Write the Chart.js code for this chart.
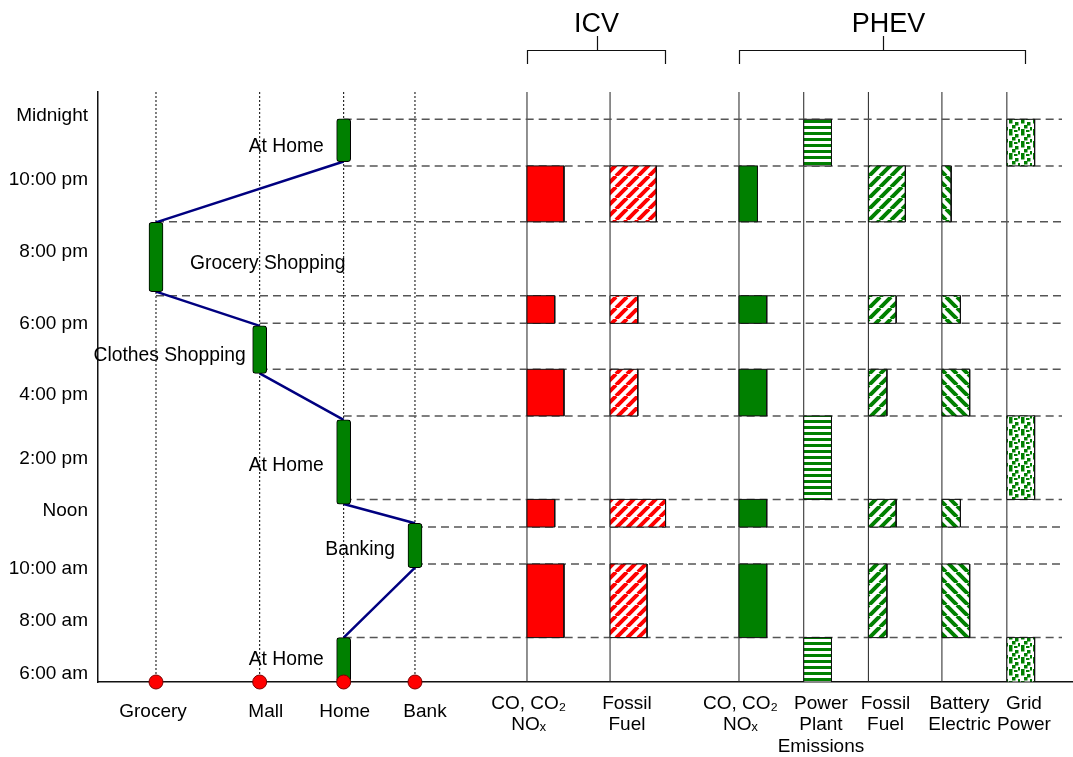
<!DOCTYPE html>
<html><head><meta charset="utf-8">
<script src="https://cdn.jsdelivr.net/npm/chart.js@4.4.1/dist/chart.umd.min.js"></script>
<style>html,body{margin:0;padding:0;background:#fff;}#wrap{width:1073px;height:757px;}</style>
</head><body><div id="wrap"><canvas id="c" width="1073" height="757"></canvas></div>
<script>
const FONT = '"Liberation Sans", Arial, Helvetica, sans-serif';

// ---- time axis (hours on the drawing's own time scale) ----
const timeLabels = ['6:00 am','8:00 am','10:00 am','Noon','2:00 pm','4:00 pm','6:00 pm','8:00 pm','10:00 pm','Midnight'];
const timeTicks  = [5.98, 7.67, 9.35, 11.23, 12.89, 14.94, 17.25, 19.56, 21.86, 23.95];
const timeMin = 5.70, timeMax = 24.70;

// ---- places (left part) ----
const places      = ['Grocery','Mall','Home','Bank'];
const placeX      = [6.27, 17.48, 26.56, 34.27];
const placeLabelX = [5.95, 18.14, 26.67, 35.35];

// ---- daily activities ----
const activityPlace = ['Home','Bank','Home','Mall','Grocery','Home'];
const activityLabel = ['At Home','Banking','At Home','Clothes Shopping','Grocery Shopping','At Home'];
const activityStart = [5.70, 9.38, 11.43, 15.64, 18.27, 22.46];
const activityEnd   = [7.13, 10.81, 14.14, 17.17, 20.50, 23.84];

// ---- driving periods and parked-at-home periods ----
const driveStart = [7.13, 10.69, 14.27, 17.25, 20.52];
const driveEnd   = [9.50, 11.58, 15.77, 18.14, 22.32];
const homeStart  = [5.70, 11.58, 22.32];
const homeEnd    = [7.13, 14.27, 23.82];

// ---- columns (right part) ----
const columnNames  = [['CO, CO\u2082','NO\u2093'],['Fossil','Fuel'],['CO, CO\u2082','NO\u2093'],['Power','Plant','Emissions'],['Fossil','Fuel'],['Battery','Electric'],['Grid','Power']];
const columnX      = [46.38, 55.36, 69.30, 76.30, 83.29, 91.24, 98.26];
const columnLabelX = [46.56, 57.19, 69.46, 78.16, 85.14, 93.14, 100.11];

// ---- amounts per driving period / per home period ----
const icvEmissions   = [4, 3, 4, 3, 4];
const icvFuel        = [4, 6, 3, 3, 5];
const phevEmissions  = [3, 3, 3, 3, 2];
const phevFuel       = [2, 3, 2, 3, 4];
const phevBattery    = [3, 2, 3, 2, 1];
const plantEmissions = [3, 3, 3];
const gridPower      = [3, 3, 3];

// ---- vehicle groups ----
const groupNames = ['ICV','PHEV'];
const groupFrom  = [46.38, 69.30];
const groupTo    = [61.33, 100.26];
const lineEndX   = 104.22;
const xMax       = 105.41;

// ---------- patterns ----------
const GREEN = '#008000', RED = '#ff0000';
function pattern(kind, color) {
  const c = document.createElement('canvas');
  const g = c.getContext('2d');
  if (kind === 'slash' || kind === 'backslash') {
    const s = 11; c.width = s; c.height = s;
    g.fillStyle = '#fff'; g.fillRect(0, 0, s, s);
    g.strokeStyle = color; g.lineWidth = 4;
    g.beginPath();
    for (const k of [-1, 0, 1, 2]) {
      if (kind === 'slash') { g.moveTo(k * s, 0); g.lineTo(k * s - s, s); }
      else { g.moveTo(k * s - s, 0); g.lineTo(k * s, s); }
    }
    g.stroke();
  } else if (kind === 'hstripe') {
    c.width = 4; c.height = 6;
    g.fillStyle = '#fff'; g.fillRect(0, 0, 4, 6);
    g.fillStyle = color; g.fillRect(0, 0, 4, 3);
  } else if (kind === 'dots') {
    c.width = 12; c.height = 12;
    g.fillStyle = '#fff'; g.fillRect(0, 0, 12, 12);
    g.fillStyle = color;
    [[1,0],[7,2],[4,5],[10,7],[1,9],[6,10]].forEach(([a, b]) => g.fillRect(a, b, 3.5, 3.5));
  }
  return g.createPattern(c, 'repeat');
}

const driveCols = [
  {x: columnX[0], amt: icvEmissions,  fill: RED},
  {x: columnX[1], amt: icvFuel,       fill: pattern('slash', RED)},
  {x: columnX[2], amt: phevEmissions, fill: GREEN},
  {x: columnX[4], amt: phevFuel,      fill: pattern('slash', GREEN)},
  {x: columnX[5], amt: phevBattery,   fill: pattern('backslash', GREEN)}
];
const homeCols = [
  {x: columnX[3], amt: plantEmissions, fill: pattern('hstripe', GREEN)},
  {x: columnX[6], amt: gridPower,      fill: pattern('dots', GREEN)}
];

const GAP = {x: null, y: null};
const px = name => placeX[places.indexOf(name)];
const datasets = [];

// vertical lines: dotted for places, solid for columns
const placeLines = [], colLines = [];
placeX.forEach(x => placeLines.push({x, y: timeMin}, {x, y: timeMax}, GAP));
columnX.forEach(x => colLines.push({x, y: timeMin}, {x, y: timeMax}, GAP));
datasets.push({type: 'line', data: placeLines, borderColor: '#000', borderWidth: 1, borderDash: [2, 2], pointRadius: 0, spanGaps: false, order: 9});
datasets.push({type: 'line', data: colLines, borderColor: '#222', borderWidth: 1, pointRadius: 0, spanGaps: false, order: 9});

// dashed time boundaries
const dashes = [];
driveStart.forEach((t, i) => {
  dashes.push({x: px(activityPlace[i]), y: t}, {x: lineEndX, y: t}, GAP);
  dashes.push({x: px(activityPlace[i + 1]), y: driveEnd[i]}, {x: lineEndX, y: driveEnd[i]}, GAP);
});
dashes.push({x: px(activityPlace[activityPlace.length - 1]), y: homeEnd[homeEnd.length - 1]}, {x: lineEndX, y: homeEnd[homeEnd.length - 1]}, GAP);
datasets.push({type: 'line', data: dashes, borderColor: '#555', borderWidth: 1.5, borderDash: [8, 5], pointRadius: 0, spanGaps: false, order: 8});

// rectangles (filled to the start of each period) + outlines
const outlines = [];
function addRect(x0, w, t0, t1, fill) {
  datasets.push({type: 'line', data: [{x: x0, y: t1}, {x: x0 + w, y: t1}], fill: {value: t0},
    backgroundColor: fill, borderColor: 'rgba(0,0,0,0)', borderWidth: 1, pointRadius: 0, order: 6});
  outlines.push({x: x0, y: t0}, {x: x0, y: t1}, {x: x0 + w, y: t1}, {x: x0 + w, y: t0}, {x: x0, y: t0}, GAP);
}
driveCols.forEach(col => col.amt.forEach((a, i) => addRect(col.x, a, driveStart[i], driveEnd[i], col.fill)));
homeCols.forEach(col => col.amt.forEach((a, i) => addRect(col.x, a, homeStart[i], homeEnd[i], col.fill)));
datasets.push({type: 'line', data: outlines, borderColor: '#111', borderWidth: 1, pointRadius: 0, spanGaps: false, order: 5});

// travel lines between activities
const travel = [];
for (let i = 0; i < activityPlace.length - 1; i++) {
  travel.push({x: px(activityPlace[i]), y: activityEnd[i]}, {x: px(activityPlace[i + 1]), y: activityStart[i + 1]}, GAP);
}
datasets.push({type: 'line', data: travel, borderColor: '#000080', borderWidth: 2.5, pointRadius: 0, spanGaps: false, order: 2});

// activity bars
datasets.push({type: 'bar', data: activityPlace.map((p, i) => ({x: px(p), y: [activityStart[i], activityEnd[i]]})),
  backgroundColor: GREEN, borderColor: '#000', borderWidth: 1, borderRadius: 3, borderSkipped: false,
  barThickness: 14, order: 1});

// place markers
datasets.push({type: 'line', data: placeX.map(x => ({x, y: timeMin})), showLine: false, pointRadius: 7,
  pointBackgroundColor: RED, pointBorderColor: '#7a0000', pointBorderWidth: 1, clip: false, order: 0});

const xTickVals = placeLabelX.concat(columnLabelX);
const xTickText = places.concat(columnNames);

const labelAlign = ['right','right','right','right','left','right'];
const labelDx = [-20, -20, -20, -14, 34, -20];
const labelDy = [0, 4, 4, 6, 7, 7];

const annotations = {
  id: 'annotations',
  afterDatasetsDraw(chart) {
    const {ctx, scales: {x, y}} = chart;
    ctx.save();
    ctx.fillStyle = '#000';
    ctx.textBaseline = 'middle';
    ctx.font = '19.3px ' + FONT;
    activityLabel.forEach((t, i) => {
      ctx.textAlign = labelAlign[i];
      const xp = x.getPixelForValue(px(activityPlace[i])) + labelDx[i];
      const yp = y.getPixelForValue((activityStart[i] + activityEnd[i]) / 2) + labelDy[i];
      ctx.fillText(t, xp, yp);
    });
    ctx.strokeStyle = '#111'; ctx.lineWidth = 1.2;
    ctx.font = '27px ' + FONT; ctx.textAlign = 'center';
    groupNames.forEach((g, i) => {
      const a = Math.round(x.getPixelForValue(groupFrom[i])) + 0.5;
      const b = Math.round(x.getPixelForValue(groupTo[i])) + 0.5;
      const m = Math.round((a + b) / 2) + 0.5;
      ctx.beginPath();
      ctx.moveTo(a, 64); ctx.lineTo(a, 50.5); ctx.lineTo(b, 50.5); ctx.lineTo(b, 64);
      ctx.moveTo(m, 50.5); ctx.lineTo(m, 36);
      ctx.stroke();
      ctx.fillText(g, (a + b) / 2 + (i === 1 ? 6 : 0), 25);
    });
    ctx.restore();
  }
};

new Chart(document.getElementById('c'), {
  type: 'line',
  data: {datasets},
  options: {
    responsive: false, animation: false,
    layout: {autoPadding: false, padding: {top: 92, left: 0, right: 0, bottom: 0}},
    plugins: {legend: {display: false}, tooltip: {enabled: false}},
    scales: {
      x: {
        type: 'linear', min: 0, max: xMax, offset: false,
        afterBuildTicks: s => { s.ticks = xTickVals.map(v => ({value: v})); },
        afterFit: s => { s.height = 75; s.paddingLeft = 0; s.paddingRight = 0; },
        ticks: {autoSkip: false, maxRotation: 0, minRotation: 0, padding: 11, color: '#000',
          font: c => ({family: FONT, size: 19, lineHeight: c.index < places.length ? 1.97 : 1.13}),
          callback: (v, i) => xTickText[i]},
        grid: {display: false, drawTicks: false},
        border: {display: true, color: '#111', width: 1.5}
      },
      y: {
        type: 'linear', min: timeMin, max: timeMax,
        afterBuildTicks: s => { s.ticks = timeTicks.map(v => ({value: v})); },
        afterFit: s => { s.width = 98; },
        ticks: {autoSkip: false, padding: 10, color: '#000', font: {family: FONT, size: 19},
          callback: (v, i) => timeLabels[i]},
        grid: {display: false, drawTicks: false},
        border: {display: true, color: '#111', width: 1.5}
      }
    }
  },
  plugins: [annotations]
});
</script></body></html>
